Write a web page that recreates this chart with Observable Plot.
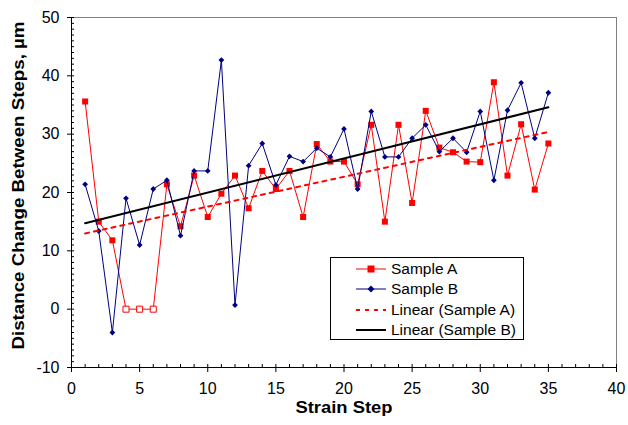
<!DOCTYPE html>
<html>
<head>
<meta charset="utf-8">
<script src="https://cdn.jsdelivr.net/npm/d3@7"></script>
<script src="https://cdn.jsdelivr.net/npm/@observablehq/plot@0.6"></script>
<style>
  html, body { margin: 0; padding: 0; background: #fff; }
  #wrap { position: relative; width: 628px; height: 425px; font-family: "Liberation Sans", Arial, sans-serif; }
  #legend { position: absolute; left: 330px; top: 257px; width: 192px; height: 81px; border: 1px solid #000; background: #fff; box-sizing: content-box; }
  .row { position: absolute; left: 0; height: 20px; display: flex; align-items: center; font-size: 15.5px; color: #000; white-space: nowrap; }
  .row svg { margin-left: 25px; margin-right: 5px; }
</style>
</head>
<body>
<div id="wrap"></div>
<script>
// ---- data ----
const steps   = [1,2,3,4,5,6,7,8,9,10,11,12,13,14,15,16,17,18,19,20,21,22,23,24,25,26,27,28,29,30,31,32,33,34,35];
const sampleA = [35.6,15.0,11.8,0,0,0,21.4,14.2,22.9,15.8,19.8,22.9,17.3,23.7,20.6,23.7,15.8,28.3,25.3,25.3,21.4,31.6,15.0,31.6,18.2,34.0,27.7,26.9,25.3,25.2,38.9,22.9,31.7,20.5,28.4];
const sampleB = [21.4,13.4,-4.0,19.0,11.0,20.6,22.1,12.6,23.7,23.7,42.7,0.7,24.6,28.4,21.3,26.2,25.3,27.6,26.1,30.9,20.6,33.9,26.1,26.1,29.3,31.6,27.0,29.3,26.9,33.9,22.1,34.1,38.8,29.3,37.1];
const hollowStepsA = [4,5,6];           // Sample A points drawn as open markers
const xTicks = [0,5,10,15,20,25,30,35,40];
const yTicks = [-10,0,10,20,30,40,50];
const seriesNames = ["Sample A","Sample B","Linear (Sample A)","Linear (Sample B)"];
const xTitle = "Strain Step";
const yTitle = "Distance Change Between Steps, µm";

// ---- tables built from the arrays ----
const dataA = steps.map((s, i) => ({step: s, value: sampleA[i], hollow: hollowStepsA.includes(s)}));
const dataB = steps.map((s, i) => ({step: s, value: sampleB[i]}));
const minorX = d3.range(xTicks[0], xTicks[xTicks.length - 1] + 1, 1);
const minorY = d3.range(yTicks[0], yTicks[yTicks.length - 1] + 1, 1);

const RED = "#ff0000", NAVY = "#000080";
const fmt = d => String(d);   // plain hyphen minus, as in the reference

const chart = Plot.plot({
  width: 628, height: 425,
  marginLeft: 71, marginRight: 12, marginTop: 17, marginBottom: 58,
  style: {fontFamily: "'Liberation Sans', Arial, sans-serif", fontSize: "16px", background: "#fff", color: "#000", overflow: "visible"},
  x: {domain: [xTicks[0], xTicks[xTicks.length - 1]]},
  y: {domain: [yTicks[0], yTicks[yTicks.length - 1]]},
  marks: [
    Plot.frame({stroke: "#808080"}),
    // minor ticks (inside)
    Plot.axisX(minorX, {tickSize: 3, dy: -3, tickFormat: () => "", label: null}),
    Plot.axisY(minorY, {tickSize: 3, dx: 3, tickFormat: () => "", label: null}),
    // major ticks + labels
    Plot.axisX(xTicks, {tickSize: 5, tickPadding: 10, fontSize: 16, tickFormat: fmt, label: null}),
    Plot.axisY(yTicks, {tickSize: 4, tickPadding: 8, fontSize: 16, tickFormat: fmt, label: null}),
    Plot.ruleX([xTicks[0]], {stroke: "#000"}),
    Plot.ruleY([yTicks[0]], {stroke: "#000"}),
    // Sample A
    Plot.line(dataA, {x: "step", y: "value", stroke: RED, strokeWidth: 1}),
    Plot.dot(dataA, {x: "step", y: "value", symbol: "square", r: 3.4,
      fill: d => d.hollow ? "#fff" : RED, stroke: d => d.hollow ? RED : "none", strokeWidth: 1}),
    // Sample B
    Plot.line(dataB, {x: "step", y: "value", stroke: NAVY, strokeWidth: 1}),
    Plot.dot(dataB, {x: "step", y: "value", symbol: "diamond2", r: 2.6, fill: NAVY, stroke: "none"}),
    // trendlines
    Plot.linearRegressionY(dataA, {x: "step", y: "value", stroke: RED, strokeWidth: 2, strokeDasharray: "4,5", ci: 0}),
    Plot.linearRegressionY(dataB, {x: "step", y: "value", stroke: "#000", strokeWidth: 2, ci: 0}),
    // axis titles
    Plot.text([xTitle], {frameAnchor: "bottom", textAnchor: "middle", dy: 45, fontSize: 17, fontWeight: "bold", fill: "#000"}),
    Plot.text([yTitle], {frameAnchor: "left", textAnchor: "middle", rotate: -90, dx: -53, dy: -7, fontSize: 17, fontWeight: "bold", fill: "#000"})
  ]
});

const wrap = document.getElementById("wrap");
wrap.appendChild(chart);

// widen the title glyphs a little, like the reference's rendering
d3.select(chart).selectAll("text").filter(function() { return this.textContent === yTitle; })
  .attr("textLength", 328).attr("lengthAdjust", "spacingAndGlyphs");
d3.select(chart).selectAll("text").filter(function() { return this.textContent === xTitle; })
  .attr("textLength", 97).attr("lengthAdjust", "spacingAndGlyphs");

// ---- legend (inside plot area) ----
const legend = document.createElement("div");
legend.id = "legend";
const swatches = [
  `<svg width="30" height="10"><line x1="0" y1="5" x2="30" y2="5" stroke="${RED}" stroke-width="1"/><rect x="11.5" y="1.5" width="7" height="7" fill="${RED}"/></svg>`,
  `<svg width="30" height="10"><line x1="0" y1="5" x2="30" y2="5" stroke="${NAVY}" stroke-width="1"/><path d="M15,1.5L18.5,5L15,8.5L11.5,5Z" fill="${NAVY}"/></svg>`,
  `<svg width="30" height="10"><line x1="0" y1="5" x2="30" y2="5" stroke="${RED}" stroke-width="2" stroke-dasharray="4,5"/></svg>`,
  `<svg width="30" height="10"><line x1="0" y1="5" x2="30" y2="5" stroke="#000" stroke-width="2"/></svg>`
];
seriesNames.forEach((name, i) => {
  const row = document.createElement("div");
  row.className = "row";
  row.style.top = (1 + i * 20.3) + "px";
  row.innerHTML = swatches[i] + `<span>${name}</span>`;
  legend.appendChild(row);
});
wrap.appendChild(legend);
</script>
</body>
</html>
